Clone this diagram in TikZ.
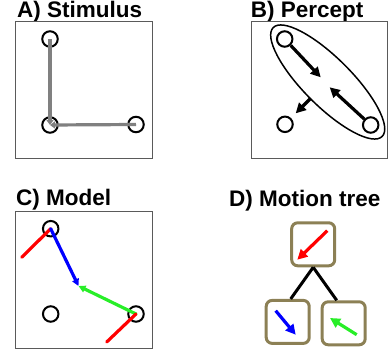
\documentclass[tikz,border=0pt]{standalone}
\usepackage{fontspec}
\setmainfont{Liberation Sans}
\usetikzlibrary{arrows.meta}
\definecolor{treebox}{RGB}{140,128,85}
\definecolor{mygreen}{RGB}{40,238,40}
\definecolor{panelgray}{RGB}{90,90,90}
\begin{document}
\begin{tikzpicture}[x=1pt,y=-1pt,
  title/.style={anchor=base west, inner sep=0pt, font=\fontsize{22.5}{27}\selectfont\bfseries},
  panel/.style={draw=panelgray, line width=1.3pt},
  dot/.style={circle, draw=black, line width=2pt, minimum size=15.5pt, inner sep=0pt},
  mv/.style={line width=3.2pt, line cap=round},
  bigtip/.style={-{Triangle[length=10pt,width=10pt]}},
  smalltip/.style={-{Triangle[length=7pt,width=7pt]}},
  tbox/.style={draw=treebox, line width=3pt, rounded corners=6pt, minimum width=43pt, minimum height=43pt, inner sep=0pt}]
\useasboundingbox (0,0) rectangle (388,356);

% ---------- A) Stimulus ----------
\node[title] (ta) at (17,17) {A) Stimulus};
\draw[panel] (15.7,21.7) rectangle (152.7,158.3);
\node[dot] (a1) at (50,39) {};
\node[dot] (a2) at (50,125) {};
\node[dot] (a3) at (136,124.5) {};
\draw[mv, gray, line cap=butt, -{Triangle[length=5pt,width=7pt]}] (a1.center) -- (a2.center);
\draw[mv, gray, line cap=butt, -{Triangle[length=5pt,width=7pt]}] (a3.center) -- (a2.center);

% ---------- B) Percept ----------
\node[title] (tbt) at (250.7,17) {B) Percept};
\draw[panel] (251.3,21.7) rectangle (388,158.3);
\node[dot] (b1) at (284.7,39) {};
\node[dot] (b2) at (285,124.3) {};
\node[dot] (b3) at (370.7,125) {};
\draw[line width=1.5pt, rotate around={-45:(327.7,82)}] (327.7,82) ellipse [x radius=77pt, y radius=24pt];
\coordinate (bm1) at (320.7,77.3);
\coordinate (bm2) at (329.7,87.3);
\coordinate (be) at (310.7,98.3);
\coordinate (bo) at (295.7,113.3);
\draw[mv, line cap=butt, bigtip] (b1) -- (bm1);
\draw[mv, line cap=butt, bigtip] (b3) -- (bm2);
\draw[mv, line cap=butt, bigtip] (be) -- (bo);

% ---------- C) Model ----------
\node[title] (tc) at (16,205.7) {C) Model};
\draw[panel] (15.7,211.3) rectangle (152.7,348.7);
\node[dot] (c1) at (50.7,228.7) {};
\node[dot] (c2) at (50.7,314) {};
\node[dot] (c3) at (136,314) {};
\coordinate (cm) at (78.5,286);
\coordinate (cr1) at (21.7,257.3);
\coordinate (cr2) at (106.7,342);
\draw[mv, red] (cr1) -- (c1.center);
\draw[mv, blue, smalltip] (c1.center) -- (cm);
\draw[mv, mygreen, smalltip] (c3.center) -- (cm);
\draw[mv, red] (cr2) -- (c3.center);

% ---------- D) Motion tree ----------
\node[title] (td) at (229,206) {D) Motion tree};
\node[tbox] (t0) at (313.2,244.3) {};
\node[tbox] (t1) at (287.7,321.9) {};
\node[tbox] (t2) at (343.7,323.3) {};
\draw[line width=3pt] (t0.south) -- ([xshift=3pt]t1.north);
\draw[line width=3pt] (t0.south) -- ([xshift=-7pt]t2.north);
\draw[mv, red, line cap=butt, bigtip] (327.3,230.7) -- (297.3,259.7);
\draw[mv, blue, line cap=butt, bigtip] (275.7,310.7) -- (295.7,334.7);
\draw[mv, mygreen, line cap=butt, bigtip] (356.7,334.7) -- (330,318);
\end{tikzpicture}
\end{document}
